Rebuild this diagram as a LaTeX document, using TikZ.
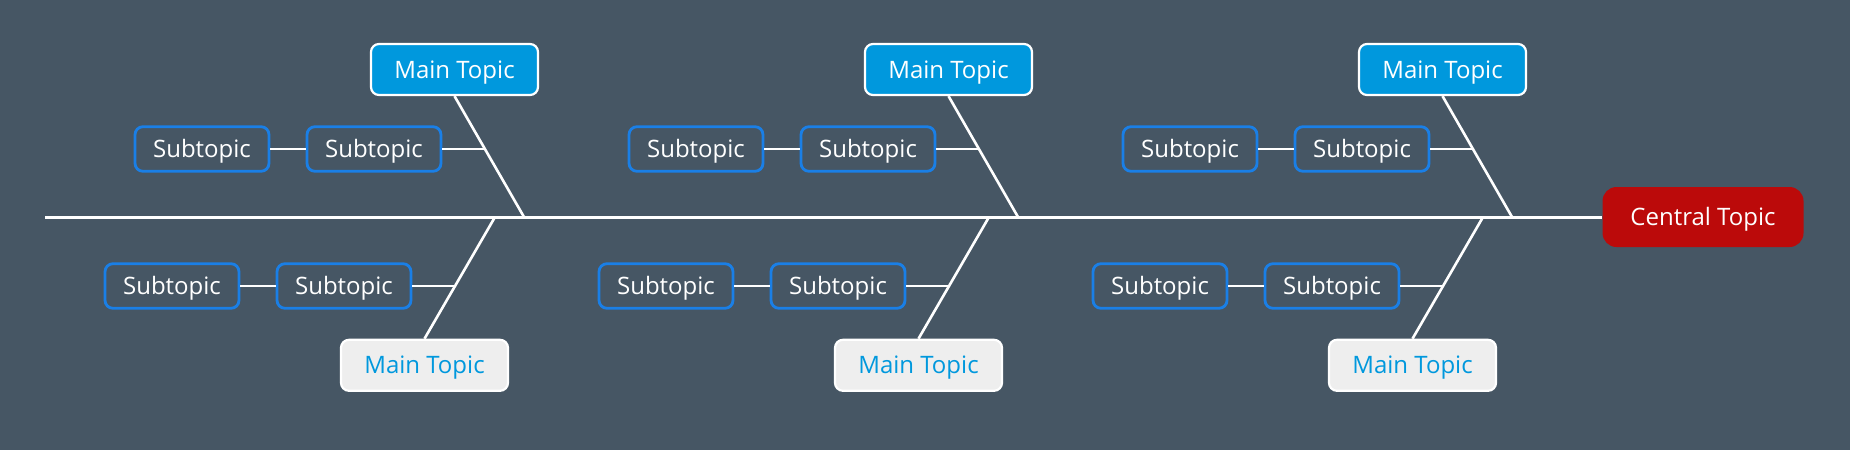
\documentclass[tikz,border=0pt]{standalone}
\usepackage{fontspec}
\setmainfont{Open Sans}
\usetikzlibrary{calc}
\definecolor{bgslate}{HTML}{465664}
\definecolor{topicblue}{HTML}{0098DD}
\definecolor{subblue}{HTML}{1A7FE6}
\definecolor{centralred}{HTML}{BB0A0A}
\definecolor{paleface}{HTML}{EEEEEE}

\begin{document}
\begin{tikzpicture}[
    x=0.5pt, y=-0.5pt,
    maintop/.style={draw=white, line width=1.1pt, fill=topicblue, text=white,
        rounded corners=4pt, minimum width=83.5pt, minimum height=25.5pt,
        inner sep=0pt, text height=8.6pt, text depth=0pt,
        font=\fontsize{12}{14}\selectfont},
    mainbot/.style={maintop, fill=paleface, text=topicblue},
    subbox/.style={draw=subblue, line width=1.4pt, fill=bgslate, text=white,
        rounded corners=4pt, minimum width=67pt, minimum height=22.3pt,
        inner sep=0pt, text height=8.6pt, text depth=0pt,
        font=\fontsize{12}{14}\selectfont},
    central/.style={fill=centralred, text=white, rounded corners=7pt,
        minimum width=100.5pt, minimum height=30pt, inner sep=0pt,
        text height=8.6pt, text depth=0pt,
        font=\fontsize{12}{14}\selectfont},
    bone/.style={draw=white, line width=1.3pt},
    spine/.style={draw=white, line width=1.5pt}
]

% Background
\fill[bgslate] (0,0) rectangle (1850,450);
\useasboundingbox (0,0) rectangle (1850,450);

% Central topic and spine
\node[central] (center) at (1703, 217) {Central Topic};
\coordinate (tail) at (45, 217);
\draw[spine] (tail) -- (center.west);

% Group 1 -- upper
\node[maintop] (umainA) at (454.5, 69.5) {Main Topic};
\coordinate (uspineA) at (524, 217);
\coordinate (ujoinA) at ($(umainA.south)!0.443!(uspineA)$);
\node[subbox] (usubA2) at (374, 149) {Subtopic};
\node[subbox] (usubA1) at (202, 149) {Subtopic};

% Group 1 -- lower
\node[mainbot] (lmainA) at (424.5, 365.3) {Main Topic};
\coordinate (lspineA) at (495, 217);
\coordinate (ljoinA) at ($(lspineA)!0.561!(lmainA.north)$);
\node[subbox] (lsubA2) at (344, 286) {Subtopic};
\node[subbox] (lsubA1) at (172, 286) {Subtopic};

% Group 2 -- upper
\node[maintop] (umainB) at (948.5, 69.5) {Main Topic};
\coordinate (uspineB) at (1018, 217);
\coordinate (ujoinB) at ($(umainB.south)!0.443!(uspineB)$);
\node[subbox] (usubB2) at (868, 149) {Subtopic};
\node[subbox] (usubB1) at (696, 149) {Subtopic};

% Group 2 -- lower
\node[mainbot] (lmainB) at (918.5, 365.3) {Main Topic};
\coordinate (lspineB) at (989, 217);
\coordinate (ljoinB) at ($(lspineB)!0.561!(lmainB.north)$);
\node[subbox] (lsubB2) at (838, 286) {Subtopic};
\node[subbox] (lsubB1) at (666, 286) {Subtopic};

% Group 3 -- upper
\node[maintop] (umainC) at (1442.5, 69.5) {Main Topic};
\coordinate (uspineC) at (1512, 217);
\coordinate (ujoinC) at ($(umainC.south)!0.443!(uspineC)$);
\node[subbox] (usubC2) at (1362, 149) {Subtopic};
\node[subbox] (usubC1) at (1190, 149) {Subtopic};

% Group 3 -- lower
\node[mainbot] (lmainC) at (1412.5, 365.3) {Main Topic};
\coordinate (lspineC) at (1483, 217);
\coordinate (ljoinC) at ($(lspineC)!0.561!(lmainC.north)$);
\node[subbox] (lsubC2) at (1332, 286) {Subtopic};
\node[subbox] (lsubC1) at (1160, 286) {Subtopic};

% Bones
\draw[bone] (umainA.south) -- (uspineA);
\draw[bone] (usubA2.east) -- (usubA2.east -| ujoinA);
\draw[bone] (usubA1.east) -- (usubA2.west);
\draw[bone] (lspineA) -- (lmainA.north);
\draw[bone] (lsubA2.east) -- (lsubA2.east -| ljoinA);
\draw[bone] (lsubA1.east) -- (lsubA2.west);

\draw[bone] (umainB.south) -- (uspineB);
\draw[bone] (usubB2.east) -- (usubB2.east -| ujoinB);
\draw[bone] (usubB1.east) -- (usubB2.west);
\draw[bone] (lspineB) -- (lmainB.north);
\draw[bone] (lsubB2.east) -- (lsubB2.east -| ljoinB);
\draw[bone] (lsubB1.east) -- (lsubB2.west);

\draw[bone] (umainC.south) -- (uspineC);
\draw[bone] (usubC2.east) -- (usubC2.east -| ujoinC);
\draw[bone] (usubC1.east) -- (usubC2.west);
\draw[bone] (lspineC) -- (lmainC.north);
\draw[bone] (lsubC2.east) -- (lsubC2.east -| ljoinC);
\draw[bone] (lsubC1.east) -- (lsubC2.west);

\end{tikzpicture}
\end{document}
